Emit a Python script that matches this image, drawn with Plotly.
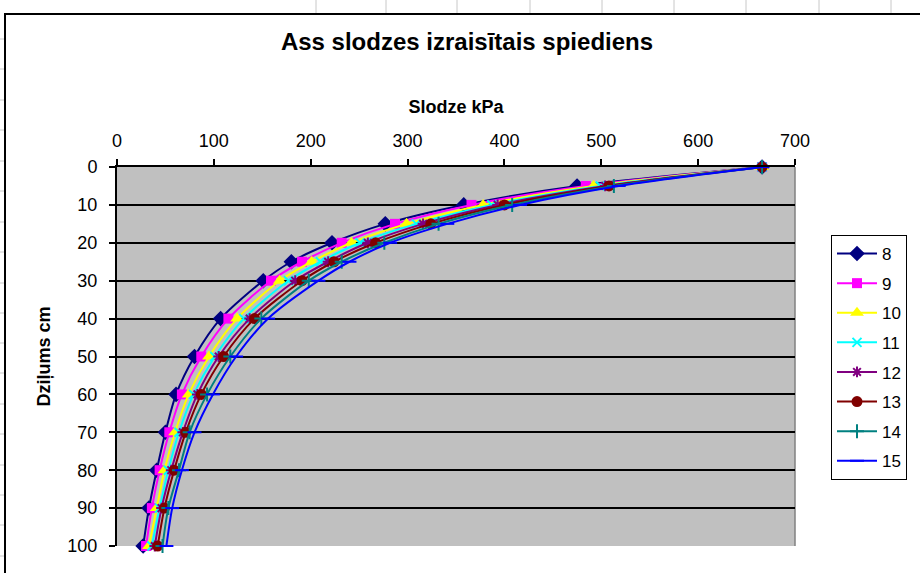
import plotly.graph_objects as go

# ---- data ----
depth_cm = [0, 5, 10, 15, 20, 25, 30, 40, 50, 60, 70, 80, 90, 100]
series_names = ["8", "9", "10", "11", "12", "13", "14", "15"]
s8 = [666, 475, 358, 277, 222, 180, 151, 107, 80, 61, 50, 41, 33, 27]
s9 = [666, 484, 366, 287, 232, 191, 159, 115, 87, 67, 54, 44, 36, 30]
s10 = [666, 492, 378, 299, 242, 201, 168, 124, 95, 74, 60, 49, 41, 33]
s11 = [666, 499, 387, 309, 251, 210, 177, 131, 101, 79, 64, 53, 44, 36]
s12 = [666, 504, 393, 316, 259, 218, 184, 137, 105, 83, 68, 56, 46, 39]
s13 = [666, 508, 400, 324, 267, 224, 191, 142, 110, 87, 71, 59, 49, 42]
s14 = [666, 513, 408, 332, 276, 232, 198, 149, 117, 93, 75, 64, 53, 47]
s15 = [666, 518, 416, 341, 282, 240, 208, 156, 123, 99, 80, 67, 57, 51]
values = [s8, s9, s10, s11, s12, s13, s14, s15]

colors = ["#000080", "#FF00FF", "#FFFF00", "#00FFFF", "#800080", "#800000", "#008080", "#0000FF"]
symbols = ["diamond", "square", "triangle-up", "x-thin-open", "asterisk-open",
           "circle", "cross-thin-open", "line-ew-open"]
msizes = [12, 10, 12, 9, 9, 11, 10, 10]

W, H = 920, 573
L, R, T, B = 117, 795, 167, 546  # plot area in pixels


def px_x(p):
    return (p - L) / (R - L)


def px_y(p):
    return (B - p) / (B - T)


FONT = "Liberation Sans, Arial, sans-serif"

fig = go.Figure()
for name, vals, c, sym, ms in zip(series_names, values, colors, symbols, msizes):
    open_sym = sym.endswith("-open")
    fig.add_trace(go.Scatter(
        x=vals, y=depth_cm, name=name, mode="lines+markers",
        line=dict(color=c, width=2, shape="spline", smoothing=0.8),
        marker=dict(symbol=sym, size=ms, color=c,
                    line=dict(color=c, width=2 if open_sym else 0)),
        legendgroup=name, cliponaxis=False,
    ))

shapes = []
# plot-area right border (gray)
shapes.append(dict(type="line", xref="paper", yref="paper", x0=1, x1=1, y0=0, y1=1,
                   line=dict(color="#808080", width=1.5), layer="below"))
# chart-area border
shapes.append(dict(type="rect", xref="paper", yref="paper",
                   x0=px_x(5), x1=px_x(935), y0=px_y(14), y1=px_y(590),
                   line=dict(color="black", width=2), layer="below"))
# spreadsheet cell lines outside the chart
for gx in [316, 386, 457, 530, 602, 674, 746, 819, 891]:
    shapes.append(dict(type="line", xref="paper", yref="paper",
                       x0=px_x(gx), x1=px_x(gx), y0=px_y(0), y1=px_y(13),
                       line=dict(color="#C8C8C8", width=1), layer="below"))
for gy in [39, 69, 100, 130, 161, 191, 222, 252, 283, 313, 343, 373, 404, 434, 465, 495, 525, 556]:
    shapes.append(dict(type="line", xref="paper", yref="paper",
                       x0=px_x(0), x1=px_x(4), y0=px_y(gy), y1=px_y(gy),
                       line=dict(color="#C8C8C8", width=1), layer="below"))

fig.update_layout(
    width=W, height=H,
    margin=dict(l=L, r=W - R, t=T, b=H - B, pad=0, autoexpand=False),
    paper_bgcolor="white", plot_bgcolor="#C0C0C0",
    font=dict(family=FONT, color="black", size=18),
    title=dict(text="Ass slodzes izraisītais spiediens",
               font=dict(family=FONT, size=24, weight="bold", color="black"),
               x=467 / W, xref="container", xanchor="center",
               y=1 - 42 / H, yref="container", yanchor="middle"),
    xaxis=dict(side="top", range=[0, 700], dtick=100, tick0=0,
               showgrid=False, zeroline=False,
               showline=True, linecolor="black", linewidth=2,
               ticks="outside", ticklen=6, tickwidth=1.5, tickcolor="black",
               ticklabelstandoff=5,
               tickfont=dict(family=FONT, size=18),
               title=dict(text="Slodze kPa", standoff=12,
                          font=dict(family=FONT, size=18, weight="bold"))),
    yaxis=dict(range=[100, 0], dtick=10, tick0=0,
               showgrid=True, gridcolor="black", gridwidth=1.5, zeroline=False,
               showline=True, linecolor="black", linewidth=2,
               ticks="outside", ticklen=6, tickwidth=1.5, tickcolor="black",
               ticklabelstandoff=8,
               tickfont=dict(family=FONT, size=18),
               title=dict(text="Dziļums cm", standoff=12,
                          font=dict(family=FONT, size=18, weight="bold"))),
    legend=dict(x=px_x(831), y=px_y(235), xanchor="left", yanchor="top",
                bgcolor="white", bordercolor="black", borderwidth=1,
                font=dict(family=FONT, size=17), tracegroupgap=4.5,
                traceorder="grouped", itemwidth=40),
    shapes=shapes,
)

fig.write_html("out.html")
